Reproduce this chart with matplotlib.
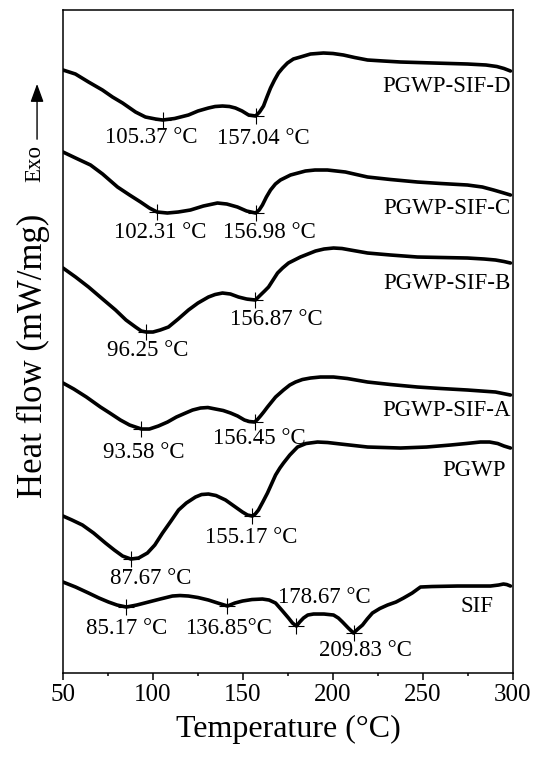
import numpy as np
import matplotlib
matplotlib.use("Agg")
import matplotlib.pyplot as plt
from matplotlib.patches import FancyArrowPatch
from matplotlib.ticker import MultipleLocator

plt.rcParams['font.family'] = ['Liberation Serif', 'DejaVu Serif']

# DSC curves, stacked (temperature in degC, heat flow with offset)
t_d = [50, 56.9, 64.2, 71.9, 77.5, 83.1, 90.3, 95.8, 101.4, 105.4, 112, 119.7, 125,
       130.8, 134.5, 138.6, 142.5, 145.8, 149.5, 153.1, 157.0, 159.2, 161.4, 163.3,
       165.3, 167.5, 169.7, 172, 174.7, 178, 181.9, 187.5, 194.7, 200, 205.8, 212,
       219.2, 228, 237.5, 255.8, 274.7, 285, 291, 295, 298.6]
h_d = [6.03, 5.99, 5.91, 5.83, 5.76, 5.70, 5.61, 5.56, 5.54, 5.53, 5.545, 5.58, 5.62,
       5.65, 5.665, 5.67, 5.665, 5.65, 5.62, 5.58, 5.57, 5.61, 5.67, 5.76,
       5.85, 5.93, 6.00, 6.05, 6.10, 6.14, 6.16, 6.19, 6.20, 6.195, 6.18, 6.155,
       6.13, 6.12, 6.11, 6.10, 6.09, 6.08, 6.065, 6.045, 6.02]

t_c = [50, 57, 65.3, 72, 80.3, 87, 93.1, 98, 102.3, 108, 114, 120.8, 128, 135.8, 141,
       146.9, 152, 157.0, 159, 160.8, 163, 165.3, 168, 170.8, 176.4, 184.7, 190,
       196.9, 206.9, 213, 219.2, 232, 246.9, 260, 274.7, 283, 289.2, 294, 298.6]
h_c = [5.21, 5.15, 5.08, 4.99, 4.86, 4.78, 4.71, 4.65, 4.61, 4.60, 4.61, 4.63, 4.67,
       4.70, 4.69, 4.66, 4.62, 4.60, 4.63, 4.68, 4.76, 4.83, 4.89, 4.93, 4.98, 5.02,
       5.03, 5.03, 5.01, 4.985, 4.96, 4.935, 4.91, 4.895, 4.88, 4.86, 4.83, 4.805, 4.78]

t_b = [50, 57, 64.2, 72, 79.2, 85, 90.3, 93.5, 96.25, 100, 104, 108.6, 114, 119.7, 125,
       130.8, 134.5, 138.6, 143, 147.5, 152, 156.9, 159.7, 162, 164.2, 166.7, 169.2,
       172, 175.3, 181.9, 190.3, 195, 200.3, 205, 209.7, 219.2, 232, 246.9, 274.7,
       284, 290.3, 295, 298.6]
h_b = [4.05, 3.96, 3.86, 3.74, 3.63, 3.53, 3.46, 3.42, 3.41, 3.41, 3.43, 3.46, 3.54,
       3.63, 3.70, 3.76, 3.785, 3.80, 3.79, 3.76, 3.74, 3.73, 3.78, 3.82, 3.86, 3.93,
       4.00, 4.05, 4.10, 4.16, 4.22, 4.24, 4.25, 4.245, 4.23, 4.20, 4.18, 4.16, 4.15,
       4.14, 4.13, 4.115, 4.10]

t_a = [50, 56, 63, 70.8, 76, 81.9, 87, 93.6, 98, 103, 108.1, 113, 118.1, 122, 126.4,
       130.5, 134.7, 139, 143.1, 147, 150.8, 153.5, 156.45, 158, 159.7, 161.5, 163.6,
       168.1, 172.5, 176, 179.2, 183, 187.5, 193, 200.3, 208, 219.2, 232, 246.9, 260,
       274.7, 290.3, 298.6]
h_a = [2.90, 2.84, 2.76, 2.66, 2.60, 2.53, 2.48, 2.44, 2.44, 2.47, 2.51, 2.56, 2.60,
       2.63, 2.65, 2.655, 2.64, 2.625, 2.60, 2.57, 2.53, 2.515, 2.51, 2.535, 2.57,
       2.61, 2.66, 2.76, 2.83, 2.88, 2.91, 2.935, 2.95, 2.96, 2.96, 2.945, 2.91,
       2.885, 2.86, 2.845, 2.83, 2.81, 2.78]

t_p = [50, 55, 60.8, 67, 73.6, 78.5, 83.1, 87.7, 92, 96.9, 101, 105.3, 110, 114.2,
       118.5, 123.6, 127, 130.8, 135, 140.3, 145, 149.7, 152.5, 155.2, 156.8, 158.6,
       161, 163.6, 168.1, 170.5, 172.5, 176, 180.3, 185, 191.4, 197, 204.2, 219.2,
       237.5, 252, 265.3, 274, 281.9, 287, 291.5, 295, 298.6]
h_p = [1.57, 1.53, 1.48, 1.40, 1.30, 1.23, 1.17, 1.14, 1.15, 1.20, 1.28, 1.40, 1.52,
       1.63, 1.70, 1.76, 1.785, 1.79, 1.775, 1.73, 1.67, 1.61, 1.58, 1.57, 1.59, 1.63,
       1.71, 1.80, 1.98, 2.05, 2.10, 2.18, 2.26, 2.295, 2.31, 2.305, 2.29, 2.26,
       2.25, 2.26, 2.28, 2.295, 2.31, 2.31, 2.295, 2.27, 2.25]

t_s = [50, 57, 64.2, 70, 75.3, 80, 85.2, 91, 97.5, 104, 110.8, 115, 119.7, 125, 130.8,
       136, 141.4, 145.5, 149.7, 155, 160.8, 164.5, 168.1, 171.5, 175.3, 177.5, 179.7,
       181.5, 183.6, 186, 189.2, 195, 200.3, 203, 205.3, 208.5, 211.4, 213.8, 216.4,
       219, 221.9, 226, 230.3, 235, 239.2, 244, 248.6, 255, 269.2, 287.5, 292, 294.7,
       296.5, 298.6]
h_s = [0.91, 0.86, 0.80, 0.75, 0.71, 0.68, 0.66, 0.68, 0.71, 0.74, 0.77, 0.775, 0.77,
       0.755, 0.73, 0.70, 0.67, 0.70, 0.72, 0.735, 0.74, 0.73, 0.70, 0.63, 0.55, 0.50,
       0.47, 0.51, 0.55, 0.58, 0.59, 0.59, 0.58, 0.55, 0.51, 0.45, 0.40, 0.44, 0.48,
       0.54, 0.60, 0.645, 0.68, 0.71, 0.75, 0.80, 0.86, 0.865, 0.87, 0.87, 0.88, 0.89,
       0.885, 0.87]

names = ['PGWP-SIF-D', 'PGWP-SIF-C', 'PGWP-SIF-B', 'PGWP-SIF-A', 'PGWP', 'SIF']
temps = [t_d, t_c, t_b, t_a, t_p, t_s]
flows = [h_d, h_c, h_b, h_a, h_p, h_s]

# peak temperatures (labels) and where the marks sit on the curve
peak_labels = [['105.37 °C', '157.04 °C'],
               ['102.31 °C', '156.98 °C'],
               ['96.25 °C', '156.87 °C'],
               ['93.58 °C', '156.45 °C'],
               ['87.67 °C', '155.17 °C'],
               ['85.17 °C', '136.85°C', '178.67 °C', '209.83 °C']]
peak_marks = [[105.4, 157.0],
              [102.3, 157.0],
              [96.25, 156.9],
              [93.6, 156.45],
              [87.7, 155.2],
              [85.2, 141.0, 179.7, 211.4]]

# layout: label centres (data coords) and curve name anchors
label_pos = [[(99.2, 5.36), (161.4, 5.35)],
             [(104.2, 4.41), (164.7, 4.41)],
             [(96.9, 3.23), (168.6, 3.54)],
             [(94.7, 2.21), (159.2, 2.35)],
             [(98.6, 0.95), (154.7, 1.36)],
             [(85.3, 0.45), (141.9, 0.45), (195.3, 0.76), (218.1, 0.23)]]
name_pos = [(298.6, 5.87), (298.6, 4.65), (298.6, 3.90), (298.6, 2.63),
            (295.8, 2.03), (289.2, 0.67)]

fig = plt.figure(figsize=(5.37, 7.58), dpi=100)
ax = fig.add_axes([0.1173, 0.1121, 0.838, 0.8747])

for i in range(len(names)):
    ax.plot(temps[i], flows[i], color='k', lw=2.6, solid_joinstyle='round',
            solid_capstyle='round')
    for j in range(len(peak_marks[i])):
        tm = peak_marks[i][j]
        hm = np.interp(tm, temps[i], flows[i])
        ax.plot(tm, hm, marker='+', color='k', ms=12, mew=0.8)
        ax.text(label_pos[i][j][0], label_pos[i][j][1], peak_labels[i][j],
                ha='center', va='center', fontsize=16.5)
    ax.text(name_pos[i][0], name_pos[i][1], names[i], ha='right', va='center',
            fontsize=16.5)

ax.set_xlim(50, 300)
ax.set_ylim(0, 6.63)
ax.set_yticks([])
ax.xaxis.set_major_locator(MultipleLocator(50))
ax.xaxis.set_minor_locator(MultipleLocator(25))
ax.tick_params(axis='x', which='major', direction='out', length=5, width=1.1,
               labelsize=18, pad=3)
ax.tick_params(axis='x', which='minor', direction='out', length=2.5, width=1.1)
for sp in ax.spines.values():
    sp.set_linewidth(1.1)
ax.set_xlabel('Temperature (°C)', fontsize=23, labelpad=6)

fig.text(0.063, 0.530, 'Heat flow (mW/mg)', rotation=90, ha='center', va='center',
         fontsize=25)
fig.text(0.065, 0.784, 'Exo', rotation=90, ha='center', va='center', fontsize=16.5)
fig.patches.append(FancyArrowPatch(
    (0.069, 0.8127), (0.069, 0.893), transform=fig.transFigure,
    arrowstyle='-|>,head_length=11,head_width=4', color='k', lw=1.0))

fig.savefig('out.png', dpi=100)
